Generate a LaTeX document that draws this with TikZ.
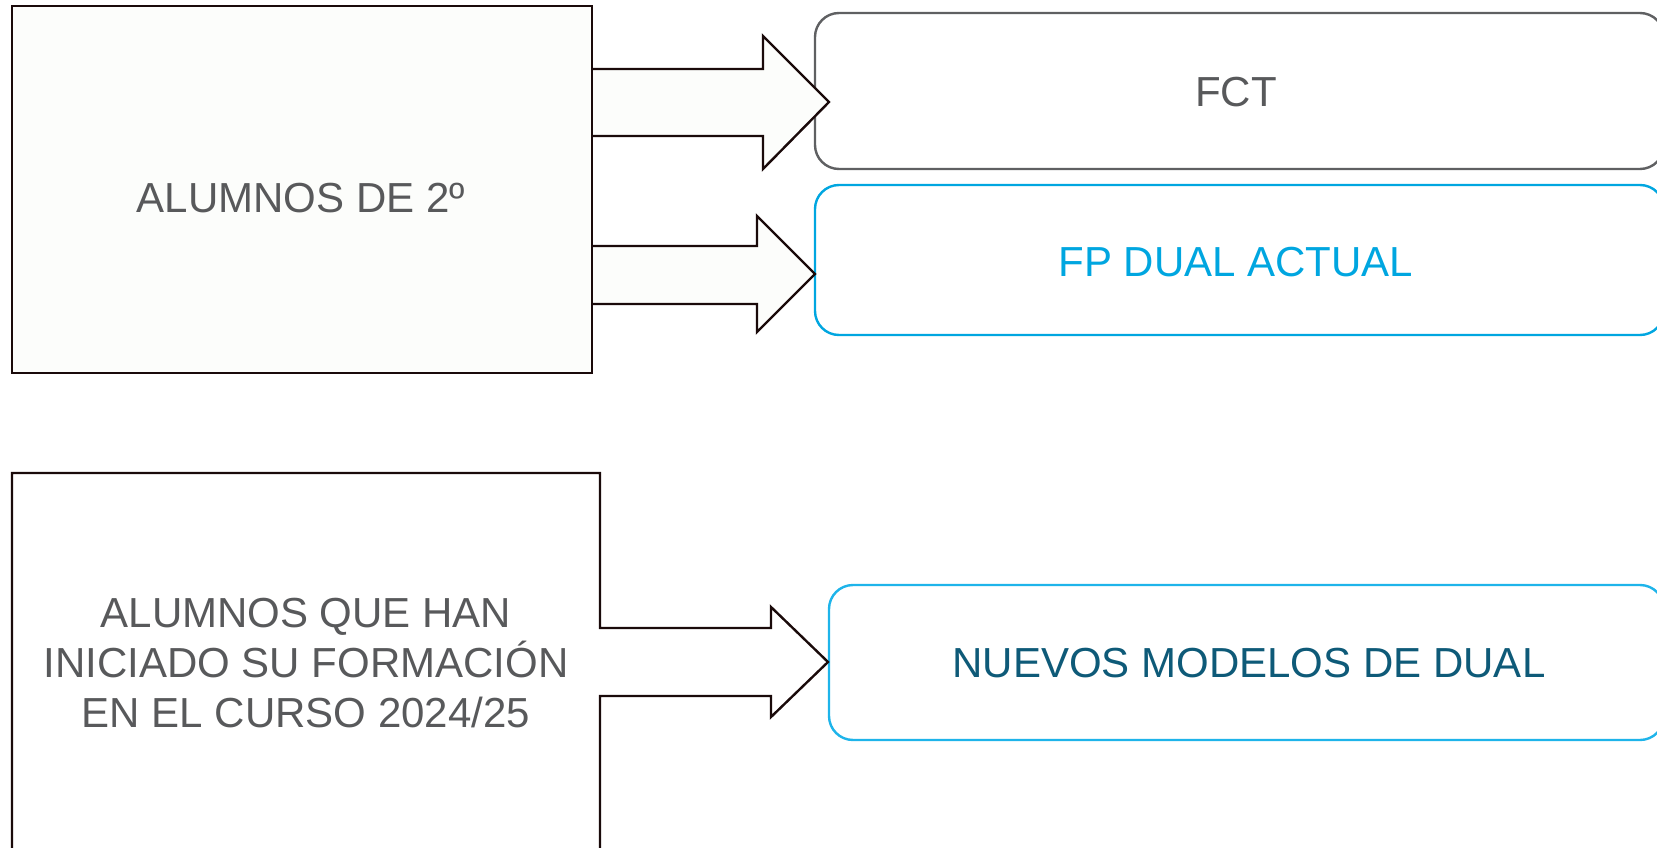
\documentclass[tikz,border=0pt]{standalone}
\usepackage{fontspec}
\setmainfont{Liberation Sans}
\definecolor{edgedark}{HTML}{1A0A0A}
\definecolor{boxfill}{HTML}{FCFDFB}
\definecolor{txtgray}{HTML}{58595B}
\definecolor{fctgray}{HTML}{5F6062}
\definecolor{dualblue}{HTML}{00A6E0}
\definecolor{nuevoblue}{HTML}{1EB4EA}
\definecolor{nuevotxt}{HTML}{0E5A78}
\tikzset{
  lbl/.style={font=\fontsize{42}{50}\selectfont, align=center, inner sep=0pt},
  blockarrow/.style={draw=edgedark, line width=2.4pt, fill=boxfill, line join=miter},
  roundbox/.style={line width=2.4pt, rounded corners=24pt, fill=white},
  darkedge/.style={draw=edgedark, line width=2.4pt, line join=miter},
}
\begin{document}
\begin{tikzpicture}[x=1pt,y=-1pt]
\useasboundingbox (0,0) rectangle (1657,848);
% top-left box
\fill[boxfill] (12,6) rectangle (592,373);
% right boxes
\draw[roundbox, draw=fctgray] (815,13) rectangle (1664,169);
\node[lbl, text=txtgray] (fct) at (1236,92) {FCT};
\draw[roundbox, draw=dualblue] (815,185) rectangle (1664,335);
\node[lbl, text=dualblue] (dual) at (1236,262) {FP DUAL ACTUAL};
\draw[roundbox, draw=nuevoblue] (829,585) rectangle (1664,740);
\node[lbl, text=nuevotxt] (nuevos) at (1249,663) {NUEVOS MODELOS DE DUAL};
% block arrows top
\draw[blockarrow] (592,69) -- (763,69) -- (763,36) -- (829,102) -- (763,169) -- (763,136) -- (592,136);
\draw[blockarrow] (592,246) -- (757,246) -- (757,216) -- (815,274) -- (757,332) -- (757,304) -- (592,304);
\draw[darkedge] (12,6) rectangle (592,373);
\node[lbl, text=txtgray] (alum2) at (301,198) {ALUMNOS DE 2º};
% bottom-left box merged with arrow
\draw[darkedge, fill=white]
  (12,860) -- (12,473) -- (600,473) -- (600,628) -- (771,628) -- (771,607) -- (828,662)
  -- (771,717) -- (771,696) -- (600,696) -- (600,860);
\node[lbl, text=txtgray] (alumnew) at (306,663) {ALUMNOS QUE HAN\\INICIADO SU FORMACIÓN\\EN EL CURSO 2024/25};
\end{tikzpicture}
\end{document}
